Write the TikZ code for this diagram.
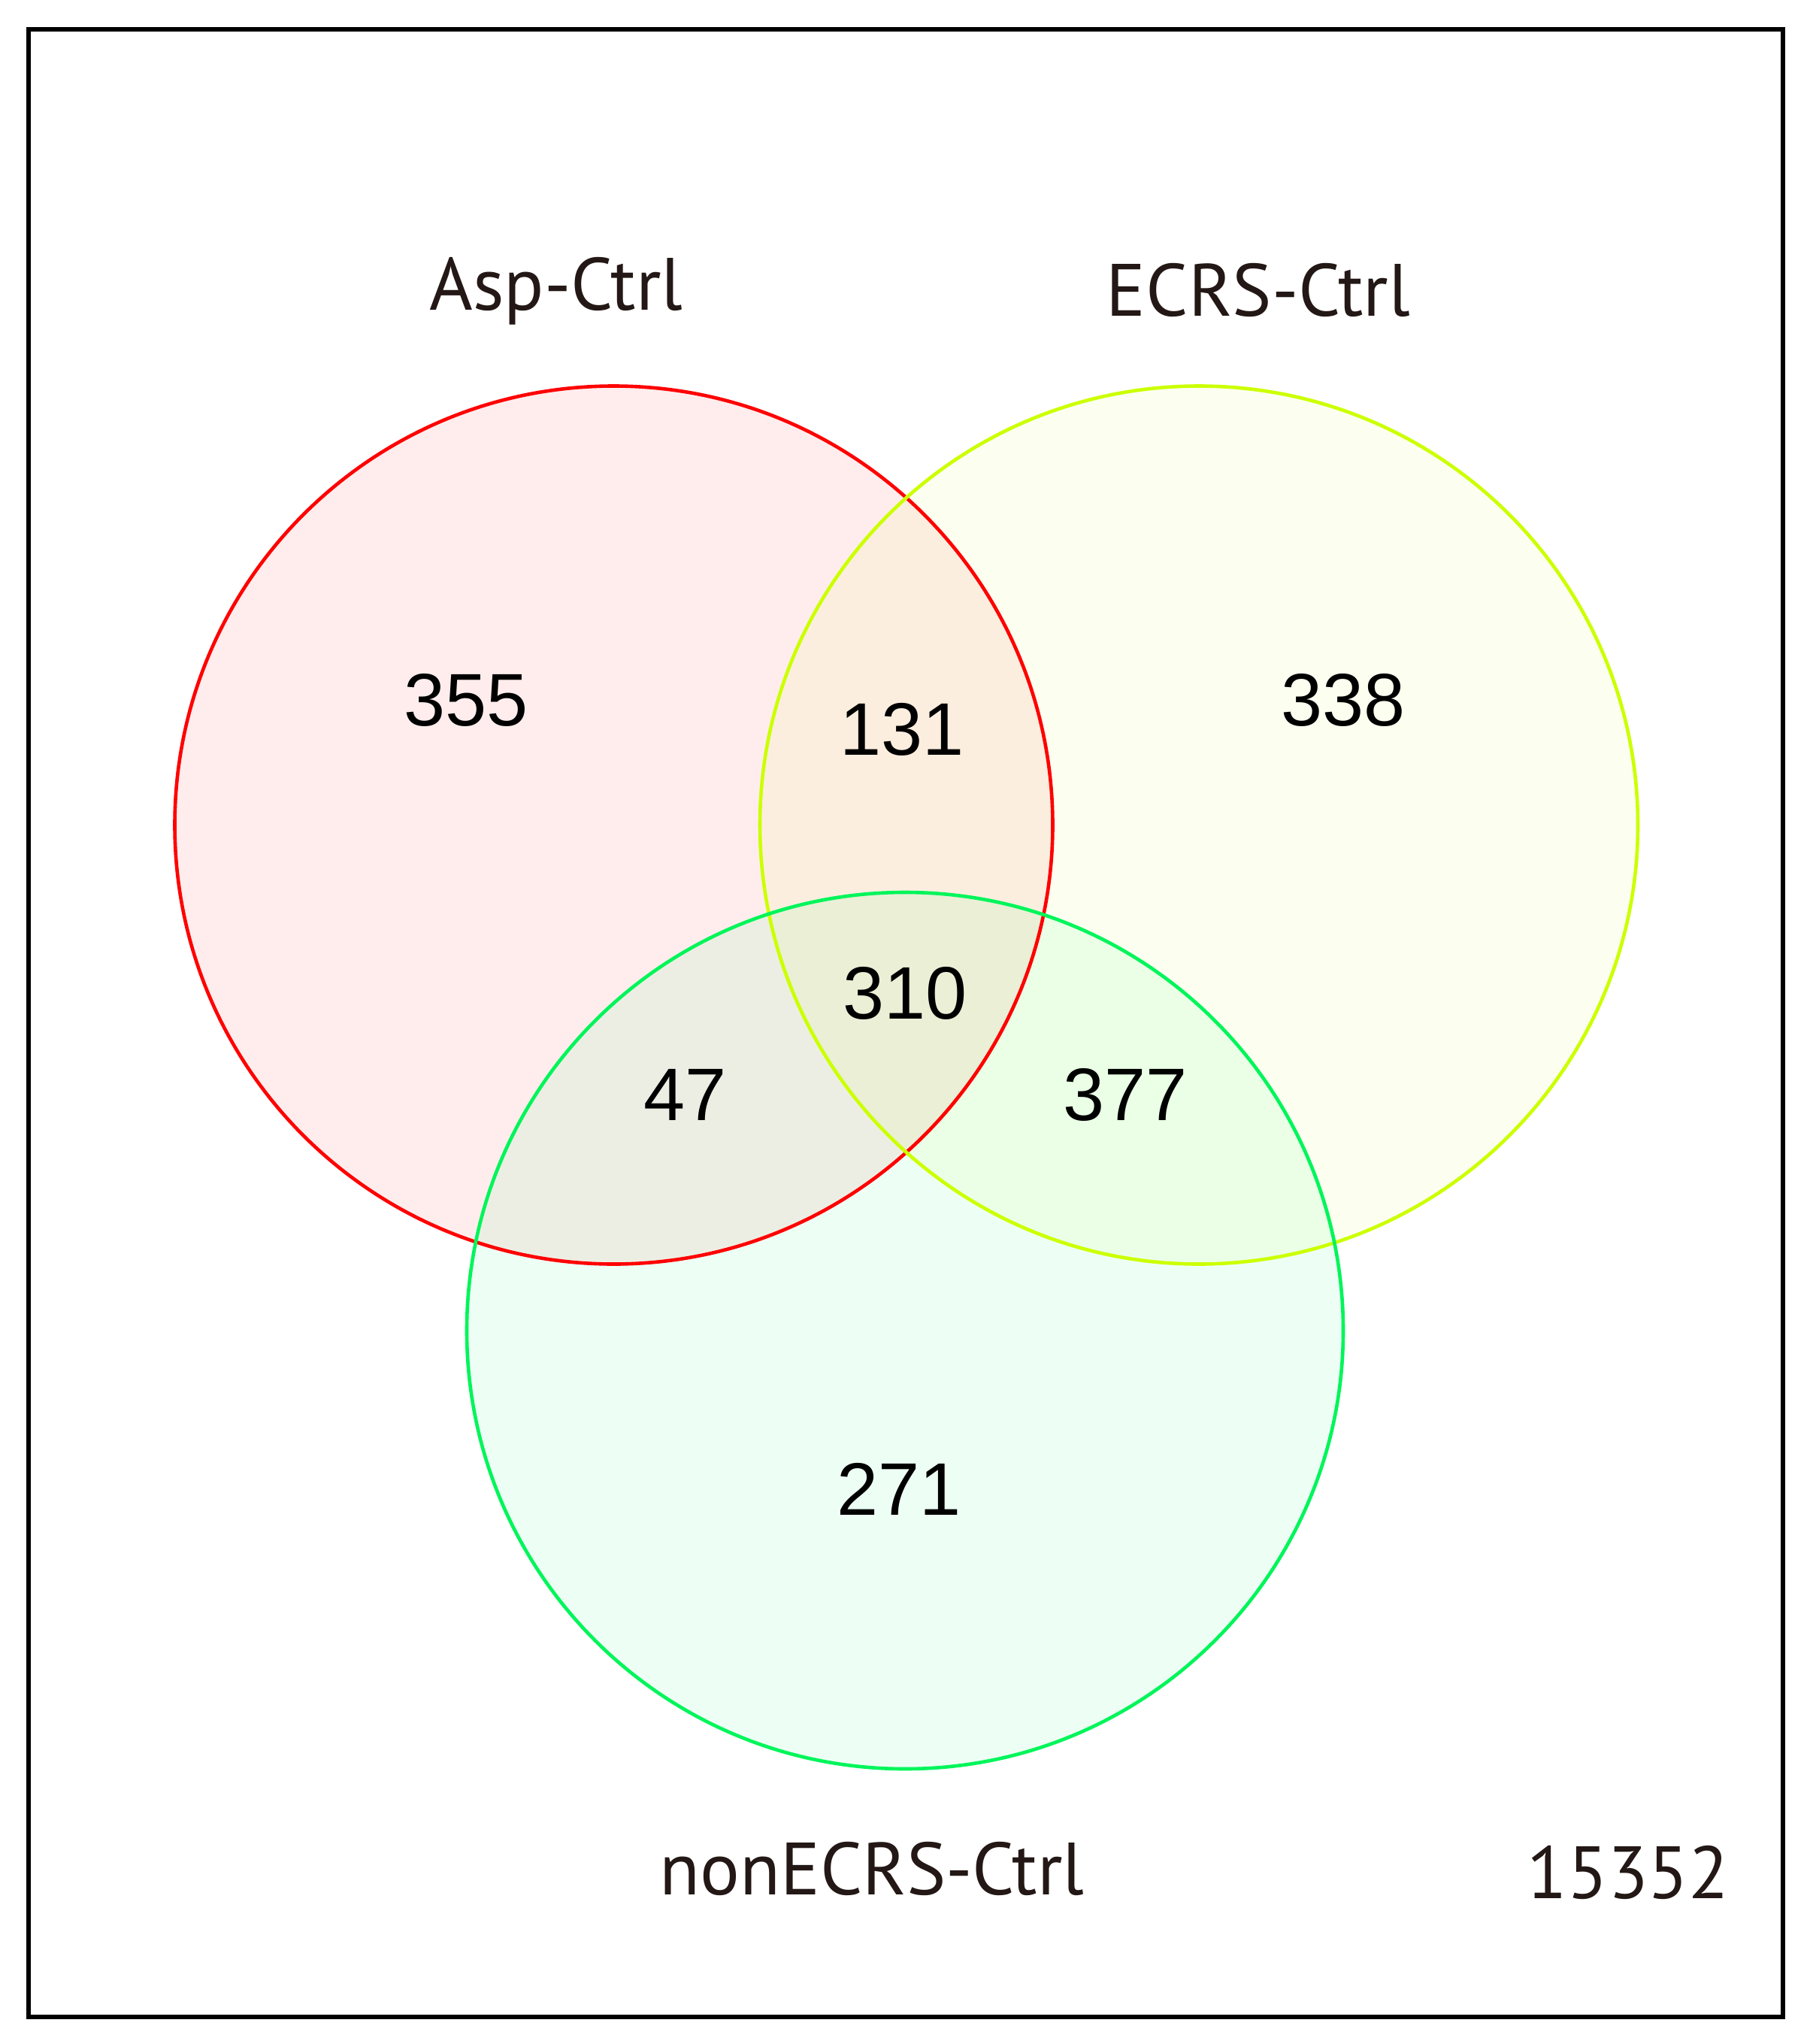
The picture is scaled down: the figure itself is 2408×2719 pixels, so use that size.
\documentclass[tikz,border=0pt]{standalone}
\usepackage{fontspec}
\setmainfont{Liberation Sans}
\newfontfamily\labfont{PT Sans}
\begin{document}
\begin{tikzpicture}[x=0.5pt,y=-0.5pt,
  numlabel/.style={font=\fontsize{49.5}{50}\selectfont, inner sep=0pt, anchor=center, text=black},
  setlabel/.style={font=\labfont\fontsize{49.3}{50}\selectfont, inner sep=0pt, anchor=base, text={rgb,255:red,35;green,24;blue,21}},
  vennline/.style={line width=2.3pt}]
\useasboundingbox (0,0) rectangle (2408,2719);
\definecolor{cred}{RGB}{255,0,0}
\definecolor{cyel}{RGB}{204,255,0}
\definecolor{cgrn}{RGB}{0,245,90}
\definecolor{fyel}{RGB}{204,255,0}
\definecolor{fgrn}{RGB}{0,255,102}
% frame
\draw[line width=3.2pt] (38,39) rectangle (2372,2683);
% fills
\fill[cred, fill opacity=0.07] (816.5,1097.5) circle [radius=584];
\fill[fyel, fill opacity=0.06] (1595,1097.5) circle [radius=584];
\fill[fgrn, fill opacity=0.07] (1204,1770) circle [radius=583];
% strokes
\draw[vennline, cred] (816.5,1097.5) circle [radius=584];
\draw[vennline, cyel] (1595,1097.5) circle [radius=584];
\draw[vennline, cgrn] (1204,1770) circle [radius=583];
% set labels
\node[setlabel] (asp) at (740,412) {Asp-Ctrl};
\node[setlabel] (ecrs) at (1674,420) {ECRS-Ctrl};
\node[setlabel] (non) at (1160,2520) {nonECRS-Ctrl};
\node[setlabel] (tot) at (2166,2525) {15352};
% counts
\node[numlabel] (n355) at (620,931) {355};
\node[numlabel] (n131) at (1200,970) {131};
\node[numlabel] (n338) at (1787,931) {338};
\node[numlabel] (n310) at (1204,1321) {310};
\node[numlabel] (n47) at (912,1456) {47};
\node[numlabel] (n377) at (1497,1456) {377};
\node[numlabel] (n271) at (1196,1981) {271};
\end{tikzpicture}
\end{document}
